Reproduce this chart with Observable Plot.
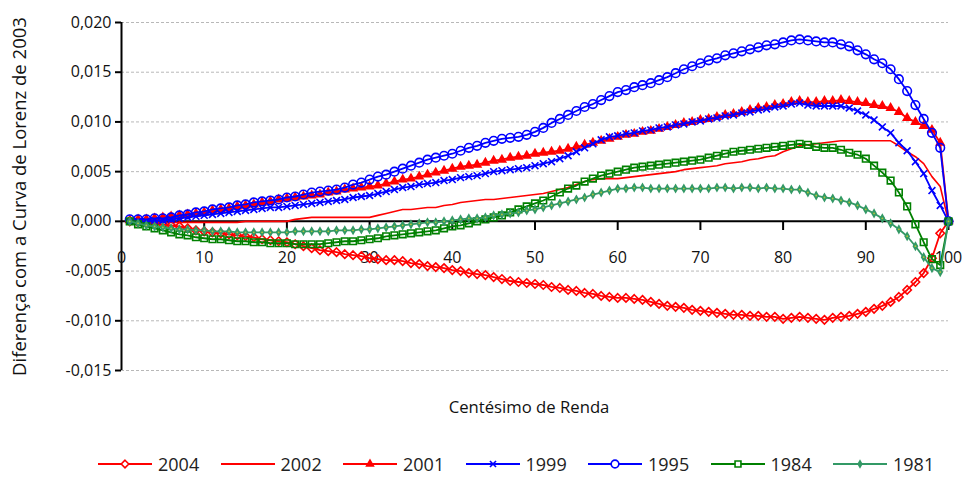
<!DOCTYPE html>
<html>
<head>
<meta charset="utf-8">
<script src="https://cdn.jsdelivr.net/npm/d3@7"></script>
<script src="https://cdn.jsdelivr.net/npm/@observablehq/plot@0.6"></script>
<style>
  body { margin: 0; background: #fff; font-family: "Open Sans", sans-serif; }
  #chart { width: 964px; }
  #legend { position: relative; height: 41px; width: 964px; font-size: 18px; color: #222; }
  .item { position: absolute; top: 12px; display: flex; align-items: center; }
  .item span { margin-left: 5px; }
</style>
</head>
<body>
<div id="chart"></div>
<div id="legend"></div>
<script>
// centésimos de renda
const centiles = d3.range(1, 101)

const years = ["2004", "2002", "2001", "1999", "1995", "1984", "1981"]

const v2004 = [
  0.0000, -0.0001, -0.0002, -0.0002, -0.0003, -0.0004, -0.0005, -0.0007, -0.0009, -0.0010,
  -0.0011, -0.0012, -0.0013, -0.0014, -0.0015, -0.0016, -0.0018, -0.0019, -0.0020, -0.0021,
  -0.0023, -0.0025, -0.0027, -0.0029, -0.0030, -0.0031, -0.0033, -0.0034, -0.0035, -0.0037,
  -0.0038, -0.0039, -0.0039, -0.0040, -0.0042, -0.0043, -0.0045, -0.0046, -0.0047, -0.0049,
  -0.0050, -0.0052, -0.0053, -0.0054, -0.0056, -0.0058, -0.0060, -0.0061, -0.0062, -0.0063,
  -0.0064, -0.0066, -0.0067, -0.0069, -0.0070, -0.0072, -0.0073, -0.0075, -0.0076, -0.0077,
  -0.0077, -0.0078, -0.0079, -0.0081, -0.0083, -0.0085, -0.0086, -0.0087, -0.0089, -0.0090,
  -0.0091, -0.0092, -0.0093, -0.0094, -0.0094, -0.0095, -0.0095, -0.0096, -0.0096, -0.0098,
  -0.0097, -0.0096, -0.0097, -0.0098, -0.0099, -0.0097, -0.0096, -0.0095, -0.0093, -0.0091,
  -0.0088, -0.0085, -0.0081, -0.0076, -0.0069, -0.0061, -0.0052, -0.0037, -0.0012, 0.0000
]
const v2002 = [
  0.0000, -0.0001, -0.0001, -0.0001, -0.0001, -0.0001, -0.0001, -0.0001, -0.0001, -0.0001,
  -0.0001, -0.0001, -0.0001, -0.0001, 0.0000, 0.0000, 0.0000, 0.0000, 0.0000, 0.0000,
  0.0002, 0.0003, 0.0004, 0.0004, 0.0004, 0.0004, 0.0004, 0.0004, 0.0004, 0.0004,
  0.0006, 0.0008, 0.0010, 0.0012, 0.0012, 0.0013, 0.0014, 0.0014, 0.0016, 0.0017,
  0.0019, 0.0020, 0.0021, 0.0022, 0.0022, 0.0023, 0.0024, 0.0025, 0.0026, 0.0027,
  0.0028, 0.0030, 0.0032, 0.0034, 0.0037, 0.0040, 0.0042, 0.0043, 0.0043, 0.0043,
  0.0044, 0.0045, 0.0046, 0.0047, 0.0048, 0.0049, 0.0050, 0.0052, 0.0053, 0.0054,
  0.0055, 0.0056, 0.0058, 0.0059, 0.0060, 0.0062, 0.0063, 0.0065, 0.0066, 0.0070,
  0.0073, 0.0076, 0.0077, 0.0078, 0.0079, 0.0080, 0.0081, 0.0081, 0.0081, 0.0081,
  0.0081, 0.0081, 0.0081, 0.0076, 0.0070, 0.0065, 0.0058, 0.0045, 0.0035, 0.0000
]
const v2001 = [
  0.0001, 0.0002, 0.0002, 0.0003, 0.0004, 0.0005, 0.0006, 0.0007, 0.0008, 0.0009,
  0.0011, 0.0012, 0.0013, 0.0015, 0.0016, 0.0017, 0.0019, 0.0020, 0.0022, 0.0023,
  0.0024, 0.0025, 0.0026, 0.0027, 0.0029, 0.0030, 0.0032, 0.0033, 0.0034, 0.0035,
  0.0036, 0.0038, 0.0040, 0.0042, 0.0043, 0.0045, 0.0047, 0.0049, 0.0051, 0.0053,
  0.0055, 0.0056, 0.0057, 0.0059, 0.0061, 0.0062, 0.0064, 0.0065, 0.0066, 0.0068,
  0.0069, 0.0070, 0.0071, 0.0073, 0.0075, 0.0077, 0.0079, 0.0081, 0.0083, 0.0085,
  0.0087, 0.0088, 0.0090, 0.0091, 0.0093, 0.0095, 0.0097, 0.0099, 0.0100, 0.0102,
  0.0103, 0.0105, 0.0107, 0.0108, 0.0110, 0.0112, 0.0114, 0.0115, 0.0117, 0.0118,
  0.0120, 0.0121, 0.0120, 0.0120, 0.0121, 0.0121, 0.0122, 0.0121, 0.0120, 0.0119,
  0.0117, 0.0116, 0.0114, 0.0110, 0.0104, 0.0100, 0.0096, 0.0092, 0.0079, 0.0000
]
const v1999 = [
  0.0000, 0.0000, 0.0000, 0.0001, 0.0001, 0.0002, 0.0003, 0.0004, 0.0005, 0.0006,
  0.0007, 0.0008, 0.0009, 0.0010, 0.0011, 0.0012, 0.0013, 0.0014, 0.0014, 0.0015,
  0.0016, 0.0017, 0.0018, 0.0019, 0.0020, 0.0021, 0.0022, 0.0024, 0.0025, 0.0026,
  0.0028, 0.0030, 0.0032, 0.0034, 0.0035, 0.0037, 0.0038, 0.0039, 0.0041, 0.0042,
  0.0044, 0.0045, 0.0046, 0.0048, 0.0050, 0.0051, 0.0052, 0.0053, 0.0054, 0.0056,
  0.0058, 0.0060, 0.0063, 0.0066, 0.0070, 0.0074, 0.0078, 0.0082, 0.0085, 0.0086,
  0.0088, 0.0089, 0.0091, 0.0092, 0.0094, 0.0095, 0.0097, 0.0098, 0.0100, 0.0101,
  0.0103, 0.0104, 0.0106, 0.0107, 0.0109, 0.0110, 0.0112, 0.0113, 0.0115, 0.0116,
  0.0118, 0.0119, 0.0117, 0.0116, 0.0116, 0.0116, 0.0116, 0.0114, 0.0111, 0.0107,
  0.0102, 0.0095, 0.0089, 0.0079, 0.0071, 0.0060, 0.0048, 0.0031, 0.0016, 0.0000
]
const v1995 = [
  0.0002, 0.0002, 0.0002, 0.0003, 0.0003, 0.0004, 0.0006, 0.0007, 0.0009, 0.0010,
  0.0012, 0.0013, 0.0014, 0.0016, 0.0017, 0.0019, 0.0020, 0.0021, 0.0022, 0.0024,
  0.0025, 0.0027, 0.0029, 0.0030, 0.0031, 0.0032, 0.0034, 0.0037, 0.0039, 0.0042,
  0.0045, 0.0047, 0.0050, 0.0053, 0.0056, 0.0059, 0.0062, 0.0064, 0.0066, 0.0068,
  0.0071, 0.0074, 0.0076, 0.0079, 0.0081, 0.0083, 0.0084, 0.0085, 0.0087, 0.0090,
  0.0094, 0.0099, 0.0103, 0.0107, 0.0111, 0.0115, 0.0118, 0.0122, 0.0126, 0.0130,
  0.0132, 0.0135, 0.0137, 0.0139, 0.0142, 0.0145, 0.0149, 0.0153, 0.0156, 0.0159,
  0.0162, 0.0164, 0.0167, 0.0169, 0.0171, 0.0173, 0.0175, 0.0177, 0.0178, 0.0180,
  0.0182, 0.0183, 0.0182, 0.0181, 0.0180, 0.0180, 0.0178, 0.0176, 0.0172, 0.0168,
  0.0163, 0.0159, 0.0153, 0.0143, 0.0131, 0.0117, 0.0103, 0.0089, 0.0074, 0.0000
]
const v1984 = [
  0.0000, -0.0003, -0.0005, -0.0007, -0.0009, -0.0011, -0.0013, -0.0014, -0.0016, -0.0017,
  -0.0018, -0.0018, -0.0019, -0.0020, -0.0020, -0.0021, -0.0021, -0.0022, -0.0022, -0.0022,
  -0.0023, -0.0023, -0.0023, -0.0023, -0.0022, -0.0021, -0.0020, -0.0020, -0.0019, -0.0018,
  -0.0017, -0.0015, -0.0014, -0.0013, -0.0012, -0.0011, -0.0010, -0.0009, -0.0007, -0.0005,
  -0.0004, -0.0002, 0.0000, 0.0002, 0.0004, 0.0006, 0.0009, 0.0012, 0.0015, 0.0018,
  0.0021, 0.0025, 0.0029, 0.0033, 0.0036, 0.0040, 0.0043, 0.0046, 0.0048, 0.0050,
  0.0052, 0.0054, 0.0055, 0.0056, 0.0057, 0.0058, 0.0059, 0.0060, 0.0061, 0.0062,
  0.0064, 0.0066, 0.0068, 0.0070, 0.0071, 0.0072, 0.0073, 0.0074, 0.0075, 0.0076,
  0.0077, 0.0078, 0.0077, 0.0075, 0.0074, 0.0074, 0.0072, 0.0069, 0.0067, 0.0063,
  0.0056, 0.0049, 0.0041, 0.0029, 0.0015, -0.0003, -0.0021, -0.0038, -0.0044, 0.0000
]
const v1981 = [
  0.0000, -0.0002, -0.0004, -0.0005, -0.0006, -0.0007, -0.0008, -0.0008, -0.0009, -0.0009,
  -0.0010, -0.0010, -0.0010, -0.0011, -0.0011, -0.0011, -0.0011, -0.0011, -0.0011, -0.0011,
  -0.0010, -0.0010, -0.0010, -0.0010, -0.0010, -0.0009, -0.0009, -0.0009, -0.0008, -0.0008,
  -0.0007, -0.0006, -0.0005, -0.0004, -0.0003, -0.0002, -0.0001, -0.0001, 0.0000, 0.0001,
  0.0002, 0.0003, 0.0003, 0.0004, 0.0006, 0.0007, 0.0008, 0.0009, 0.0011, 0.0012,
  0.0014, 0.0016, 0.0018, 0.0020, 0.0022, 0.0024, 0.0027, 0.0029, 0.0031, 0.0033,
  0.0033, 0.0034, 0.0034, 0.0033, 0.0033, 0.0033, 0.0033, 0.0033, 0.0033, 0.0033,
  0.0033, 0.0034, 0.0034, 0.0033, 0.0034, 0.0034, 0.0033, 0.0034, 0.0033, 0.0033,
  0.0032, 0.0032, 0.0029, 0.0026, 0.0024, 0.0023, 0.0021, 0.0019, 0.0016, 0.0012,
  0.0008, 0.0003, -0.0002, -0.0008, -0.0015, -0.0025, -0.0036, -0.0047, -0.0051, 0.0000
]

const xTicks = [0, 10, 20, 30, 40, 50, 60, 70, 80, 90, 100]
const yTicks = [-0.015, -0.010, -0.005, 0, 0.005, 0.010, 0.015, 0.020]

const values = {"2004": v2004, "2002": v2002, "2001": v2001, "1999": v1999, "1995": v1995, "1984": v1984, "1981": v1981}

// how each year is drawn
const styles = {
  "2004": {color: "#ff0000", symbol: "diamond2", r: 3.8, fill: "none"},
  "2002": {color: "#ff0000", symbol: null},
  "2001": {color: "#ff0000", symbol: "triangle", r: 2.8, fill: "#ff0000"},
  "1999": {color: "#0000ff", symbol: "times", r: 3.2, fill: "none"},
  "1995": {color: "#0000ff", symbol: "circle", r: 4.3, fill: "none"},
  "1984": {color: "#008000", symbol: "square2", r: 4.2, fill: "none"},
  "1981": {color: "#339966", symbol: "diamond", r: 2.1, fill: "#339966"}
}

const fmt = d => d.toFixed(3).replace(".", ",")
const font = "Open Sans"

const marks = [
  Plot.ruleY(yTicks.filter(d => d !== 0), {stroke: "#b8b8b8", strokeDasharray: "3 2"}),
  Plot.axisY(yTicks, {tickFormat: fmt, tickSize: 6, tickPadding: 4, fontSize: 16, label: null, stroke: "black", strokeWidth: 2}),
  Plot.ruleX([0], {stroke: "black", strokeWidth: 2}),
  Plot.ruleY([0], {stroke: "black", strokeWidth: 2}),
  Plot.ruleX(xTicks.filter(d => d > 0), {stroke: "black", strokeWidth: 2, insetTop: 199, insetBottom: 140}),
  Plot.text(xTicks, {x: d => d, y: 0, text: d => String(d), dy: 37, fontSize: 16, fill: "#111"}),
  Plot.text(["Centésimo de Renda"], {frameAnchor: "bottom", dy: 42, dx: -6, fontSize: 16.7, fill: "#111"}),
  Plot.text(["Diferença com a Curva de Lorenz de 2003"], {frameAnchor: "left", textAnchor: "middle", rotate: -90, dx: -101, fontSize: 18.5, fill: "#111"})
]

for (const year of years) {
  const s = styles[year]
  const rows = centiles.map((c, i) => ({c, v: values[year][i]}))
  marks.push(Plot.line(rows, {x: "c", y: "v", stroke: s.color, strokeWidth: year === "2002" ? 1.6 : 1.8}))
  if (s.symbol) {
    marks.push(Plot.dot(rows, {x: "c", y: "v", symbol: () => s.symbol, r: s.r, stroke: s.color, fill: s.fill, strokeWidth: 1.6}))
  }
  if (year === "1981") {
    // small light centre in the 1981 markers
    marks.push(Plot.dot(rows, {x: "c", y: "v", r: 0.9, fill: "#b5c93a"}))
  }
}

const chart = Plot.plot({
  width: 964,
  height: 440,
  marginLeft: 121,
  marginRight: 16,
  marginTop: 22,
  marginBottom: 70,
  x: {domain: [0, 100], axis: null},
  y: {domain: [-0.015, 0.020], axis: null},
  symbol: {type: "identity"},
  style: {fontFamily: font, color: "#111", background: "white"},
  marks
})

d3.select("#chart").append(() => chart)

// legend below the chart
const legend = d3.select("#legend")
years.forEach((year, i) => {
  const s = styles[year]
  const item = legend.append("div").attr("class", "item").style("left", (97 + i * 122.5) + "px")
  const svg = item.append("svg").attr("width", 56).attr("height", 14)
  svg.append("line").attr("x1", 1).attr("x2", 55).attr("y1", 7).attr("y2", 7)
    .attr("stroke", s.color).attr("stroke-width", 2)
  if (s.symbol) {
    const sym = {diamond2: d3.symbolDiamond2, triangle: d3.symbolTriangle, times: d3.symbolTimes,
      circle: d3.symbolCircle, square2: d3.symbolSquare2, diamond: d3.symbolDiamond}[s.symbol]
    svg.append("path").attr("transform", "translate(28,7)")
      .attr("d", d3.symbol(sym, Math.PI * s.r * s.r * 0.8)())
      .attr("stroke", s.color).attr("fill", s.fill === "none" ? "white" : s.fill).attr("stroke-width", 1.6)
  }
  item.append("span").text(year)
})
</script>
</body>
</html>
